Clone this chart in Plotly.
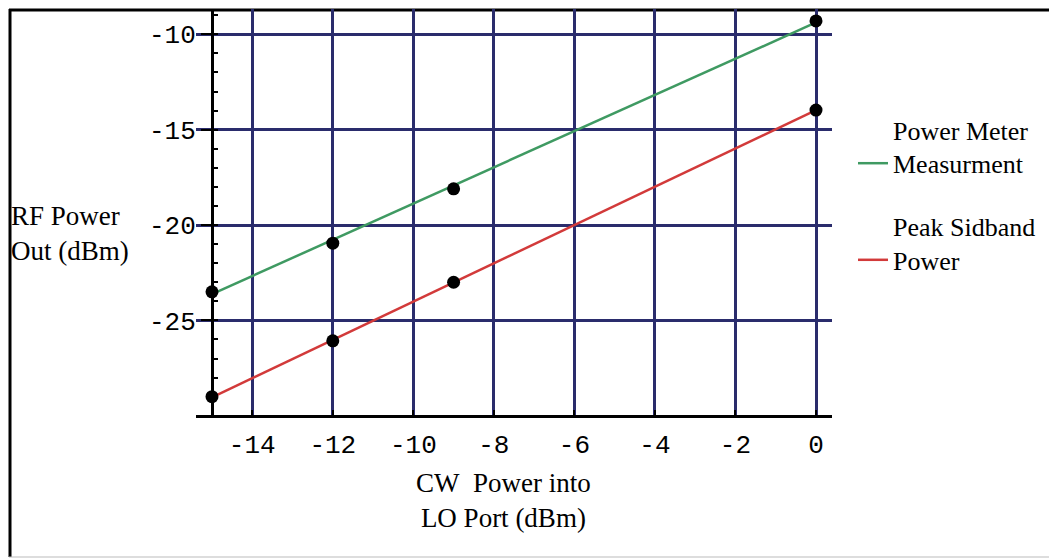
import plotly.graph_objects as go

# page has an 8px body margin; size the figure so it fills the window
OFF = 8
W, H = 1057 - OFF, 558 - OFF

# ---- data ----
lo_power = [-15, -12, -9, 0]                       # CW power into LO port (dBm)
power_meter = [-23.5, -20.95, -18.1, -9.3]          # Power Meter Measurment (dBm)
peak_sideband = [-29.0, -26.07, -23.0, -13.97]      # Peak Sidband Power (dBm)

fit_x = [-15, 0]                                    # straight fit lines drawn in the chart
power_meter_fit = [-23.62, -9.38]
peak_sideband_fit = [-29.03, -13.98]

x_ticks = [-14, -12, -10, -8, -6, -4, -2, 0]
y_ticks = [-10, -15, -20, -25]

GRID = "#2a2c6c"
GREEN = "#3f9a62"
RED = "#d23a3a"
SERIF = "Liberation Serif, Times New Roman, serif"
MONO = "Liberation Mono, Courier New, monospace"

fig = go.Figure()

fig.add_trace(go.Scatter(
    x=fit_x, y=power_meter_fit, mode="lines",
    line=dict(color=GREEN, width=2.5),
    name="Power Meter<br>Measurment", legendgroup="a"))
fig.add_trace(go.Scatter(
    x=fit_x, y=peak_sideband_fit, mode="lines",
    line=dict(color=RED, width=2.5),
    name="Peak Sidband<br>Power", legendgroup="b"))
fig.add_trace(go.Scatter(
    x=lo_power, y=power_meter, mode="markers",
    marker=dict(color="black", size=13), showlegend=False))
fig.add_trace(go.Scatter(
    x=lo_power, y=peak_sideband, mode="markers",
    marker=dict(color="black", size=13), showlegend=False))


# screen-pixel helpers for layout placement (paper fractions)
def px(x):
    return (x - OFF) / W


def py(y):
    return 1 - (y - OFF) / H


frame = dict(color="black", width=3)

fig.update_layout(
    width=W, height=H,
    margin=dict(l=0, r=0, t=0, b=0),
    paper_bgcolor="white", plot_bgcolor="white",
    showlegend=True,
    legend=dict(
        x=px(853), y=py(106), xanchor="left", yanchor="top",
        font=dict(family=SERIF, size=26, color="black"),
        bgcolor="rgba(0,0,0,0)", borderwidth=0,
        traceorder="grouped", tracegroupgap=26, valign="bottom",
    ),
    xaxis=dict(
        domain=[px(196), px(832)],
        range=[-15.397, 0.397],
        tickvals=x_ticks, ticktext=[str(v) for v in x_ticks],
        showgrid=True, gridcolor=GRID, gridwidth=2.5,
        zeroline=False,
        showline=True, linecolor="black", linewidth=3,
        ticks="inside", ticklen=5, tickcolor="black", tickwidth=2,
        tickfont=dict(family=MONO, size=26, color="black"),
        ticklabelstandoff=4,
    ),
    yaxis=dict(
        domain=[py(415), py(9)],
        range=[-29.96, -8.673],
        anchor="free", position=px(212),
        tickvals=y_ticks, ticktext=[str(v) for v in y_ticks],
        showgrid=True, gridcolor=GRID, gridwidth=2.5,
        zeroline=False,
        showline=True, linecolor="black", linewidth=3,
        ticks="outside", ticklen=10, tickcolor="black", tickwidth=2,
        minor=dict(dtick=1, ticks="inside", ticklen=4, tickcolor="black",
                   tickwidth=2, showgrid=False),
        tickfont=dict(family=MONO, size=26, color="black"),
        ticklabelstandoff=0,
    ),
    annotations=[
        dict(text="RF Power<br>Out (dBm)", xref="paper", yref="paper",
             x=px(9), y=py(233), xanchor="left", yanchor="middle",
             align="left", showarrow=False,
             font=dict(family=SERIF, size=27, color="black")),
        dict(text="CW\u00a0 Power into<br>LO Port (dBm)", xref="paper", yref="paper",
             x=px(503), y=py(500), xanchor="center", yanchor="middle",
             align="center", showarrow=False,
             font=dict(family=SERIF, size=27, color="black")),
    ],
    shapes=[
        dict(type="line", xref="paper", yref="paper",
             x0=px(10), x1=px(10), y0=py(557), y1=py(9), line=frame, layer="below"),
        dict(type="line", xref="paper", yref="paper",
             x0=px(9), x1=px(1080), y0=py(10), y1=py(10), line=frame, layer="below"),
        dict(type="line", xref="paper", yref="paper",
             x0=px(9), x1=px(1080), y0=py(557), y1=py(557),
             line=dict(color="#bbbbbb", width=1), layer="below"),
    ],
)

fig.write_html("out.html")
